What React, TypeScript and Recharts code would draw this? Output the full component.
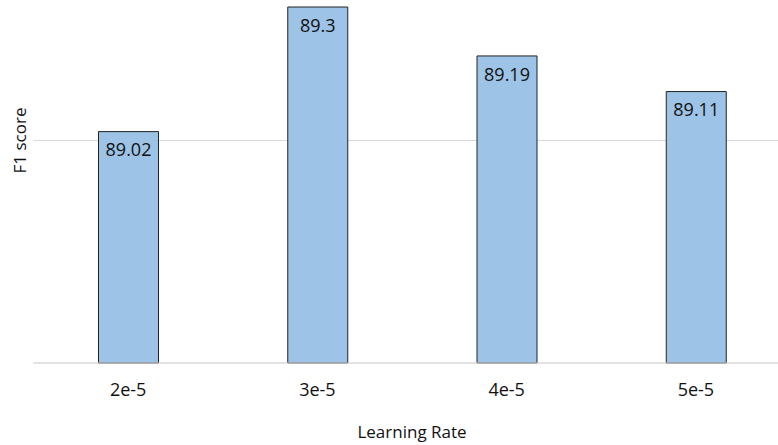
import { BarChart, Bar, XAxis, YAxis, CartesianGrid, LabelList } from 'recharts';

// values
const learningRates = ['2e-5', '3e-5', '4e-5', '5e-5'];
const f1Scores = [89.02, 89.3, 89.19, 89.11];
const yTicks = [88.5, 89, 89.5];

const data = learningRates.map((lr, i) => ({ lr, f1: f1Scores[i] }));

const FONT = "'Open Sans', sans-serif";
const TEXT = '#111';

export default function App() {
  return (
    <div
      style={{
        position: 'absolute',
        left: 0,
        top: 0,
        width: 778,
        height: 445,
        overflow: 'hidden',
        background: '#fff',
        fontFamily: FONT,
      }}
    >
      {/* the plot area runs up to 89.5, above the visible frame */}
      <div style={{ position: 'absolute', left: 0, top: -82 }}>
        <BarChart
          width={800}
          height={527}
          data={data}
          margin={{ top: 0, right: 9.5, bottom: 0, left: 0 }}
        >
          <CartesianGrid vertical={false} stroke="#d9d9d9" />
          <XAxis
            dataKey="lr"
            height={82}
            tickLine={false}
            axisLine={{ stroke: '#d9d9d9' }}
            tickMargin={14}
            tick={{ fill: TEXT, fontSize: 18, fontFamily: FONT }}
            label={{
              value: 'Learning Rate',
              position: 'insideBottom',
              offset: 7,
              fill: TEXT,
              fontSize: 17,
              fontFamily: FONT,
            }}
          />
          <YAxis
            width={33.5}
            domain={[88.5, 89.5]}
            ticks={yTicks}
            tick={() => <g />}
            tickLine={false}
            axisLine={false}
            label={{
              value: 'F1 score',
              angle: -90,
              position: 'center',
              dx: 3,
              fill: TEXT,
              fontSize: 17,
              fontFamily: FONT,
            }}
          />
          <Bar
            dataKey="f1"
            barSize={60}
            fill="#9dc3e6"
            stroke="#222"
            strokeWidth={1}
            isAnimationActive={false}
          >
            <LabelList
              dataKey="f1"
              position="insideTop"
              offset={12}
              fill={TEXT}
              fontSize={18}
              fontFamily={FONT}
            />
          </Bar>
        </BarChart>
      </div>
    </div>
  );
}
